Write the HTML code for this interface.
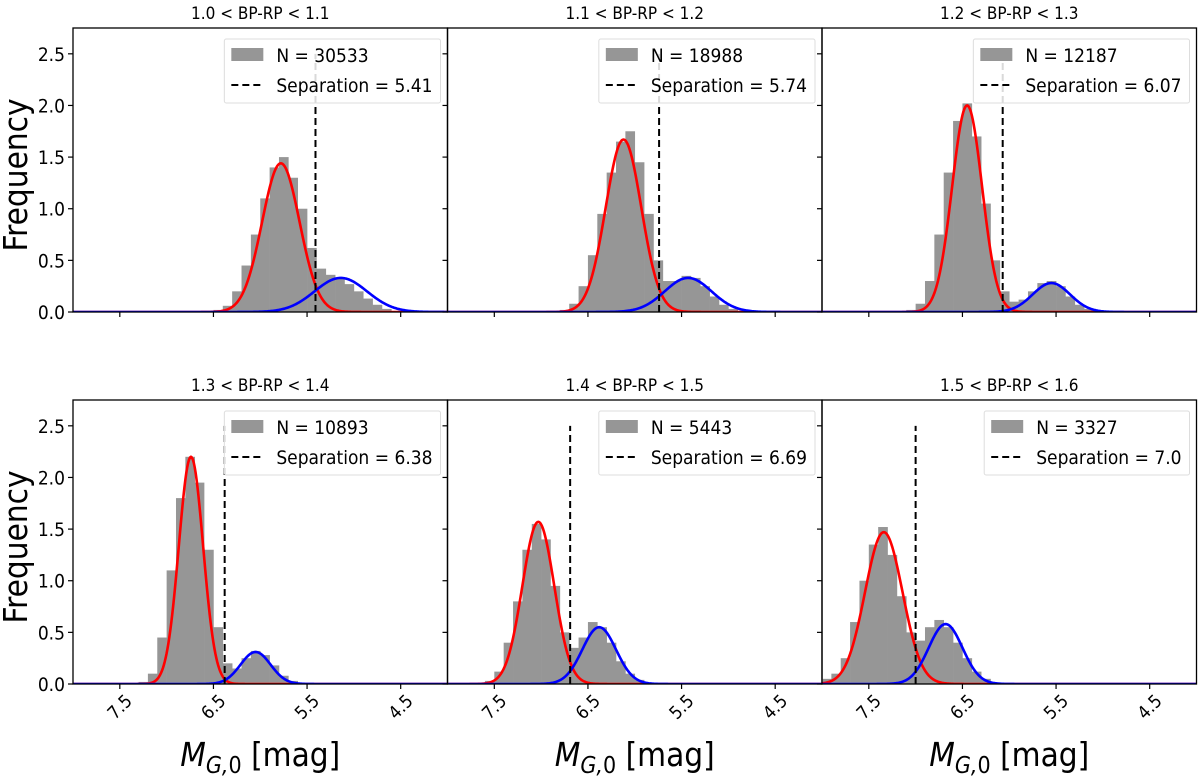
<!DOCTYPE html>
<html><head><meta charset="utf-8">
<style>
html,body{margin:0;padding:0;background:#fff;}
svg{display:block;font-family:"DejaVu Sans Condensed","DejaVu Sans","Liberation Sans",sans-serif;font-stretch:condensed;}
</style></head>
<body>
<svg id="chart" width="1200" height="777" viewBox="0 0 1200 777"></svg>
<script>
const titles = ["1.0 < BP-RP < 1.1","1.1 < BP-RP < 1.2","1.2 < BP-RP < 1.3","1.3 < BP-RP < 1.4","1.4 < BP-RP < 1.5","1.5 < BP-RP < 1.6"];
const counts = [30533, 18988, 12187, 10893, 5443, 3327];
const separations = [5.41, 5.74, 6.07, 6.38, 6.69, 7.0];
const sepLabels = ["5.41","5.74","6.07","6.38","6.69","7.0"];
// histogram bin centers (first bin) and heights, bin width 0.1 mag, going towards brighter
const binStart = [6.45, 6.75, 7.05, 7.25, 7.55, 7.95];
const hist1 = [0.02,0.06,0.2,0.45,0.75,1.1,1.4,1.5,1.3,1.0,0.62,0.42,0.36,0.32,0.27,0.2,0.13,0.07,0.03,0.01];
const hist2 = [0.02,0.08,0.25,0.55,0.95,1.35,1.65,1.75,1.45,0.95,0.5,0.3,0.3,0.35,0.33,0.25,0.15,0.07,0.03];
const hist3 = [0.02,0.08,0.3,0.75,1.35,1.85,2.02,1.7,1.05,0.5,0.2,0.1,0.12,0.2,0.28,0.3,0.25,0.15,0.07,0.03];
const hist4 = [0.02,0.1,0.45,1.1,1.8,2.2,1.95,1.3,0.55,0.2,0.15,0.25,0.32,0.28,0.18,0.08,0.03];
const hist5 = [0.03,0.12,0.4,0.8,1.3,1.55,1.4,0.95,0.5,0.35,0.45,0.6,0.55,0.4,0.22,0.1,0.04];
const hist6 = [0.05,0.1,0.25,0.6,1.0,1.35,1.52,1.25,0.85,0.5,0.42,0.55,0.62,0.55,0.4,0.25,0.12,0.05];
const hists = [hist1,hist2,hist3,hist4,hist5,hist6];
// gaussian fit parameters
const redMu = [5.78, 6.12, 6.45, 6.74, 7.03, 7.34];
const redSigma = [0.2, 0.19, 0.16, 0.13, 0.17, 0.2];
const redAmp = [1.44, 1.67, 2.0, 2.2, 1.57, 1.47];
const blueMu = [5.14, 5.43, 5.55, 6.05, 6.38, 6.68];
const blueSigma = [0.28, 0.25, 0.2, 0.16, 0.18, 0.18];
const blueAmp = [0.33, 0.33, 0.28, 0.31, 0.55, 0.58];
const xTicks = [7.5, 6.5, 5.5, 4.5];
const xTickLabels = ["7.5","6.5","5.5","4.5"];
const yTicks = [0, 0.5, 1.0, 1.5, 2.0, 2.5];
const yTickLabels = ["0.0","0.5","1.0","1.5","2.0","2.5"];

const NS = "http://www.w3.org/2000/svg";
const svg = document.getElementById('chart');
function mk(tag, attrs, parent){
  const e = document.createElementNS(NS, tag);
  for (const k in attrs) e.setAttribute(k, attrs[k]);
  (parent||svg).appendChild(e);
  return e;
}
const colX = [73, 447.5, 822];
const PW = 374.5;
const rowY = [28, 400];
const PH = 284;
const XMIN = 8.0, XMAX = 4.0, YMAX = 2.75;

for (let i = 0; i < 6; i++) {
  const col = i % 3, row = Math.floor(i / 3);
  const x0 = colX[col], y0 = rowY[row];
  const sx = v => x0 + (XMIN - v) / (XMIN - XMAX) * PW;
  const sy = v => y0 + PH - v / YMAX * PH;
  const g = mk('g', {});
  
  
  const clipId = 'clip' + i;
  const cp = mk('clipPath', {id: clipId}, g);
  mk('rect', {x: x0, y: y0, width: PW, height: PH}, cp);
  const plot = mk('g', {'clip-path': 'url(#' + clipId + ')'}, g);

  const h = hists[i];
  for (let b = 0; b < h.length; b++) {
    const c = binStart[i] - 0.1 * b;
    const xa = sx(c + 0.05), xb = sx(c - 0.05);
    const r = mk('rect', {x: xa, y: sy(h[b]), width: xb - xa + 0.3, height: sy(0) - sy(h[b]), fill: '#969696'}, plot);
    
    
  }
  function curve(mu, s, a, color, name) {
    let d = '';
    for (let k = 0; k <= 400; k++) {
      const v = XMIN - (XMIN - XMAX) * k / 400;
      const yv = a * Math.exp(-0.5 * ((v - mu) / s) ** 2);
      d += (k ? 'L' : 'M') + sx(v).toFixed(2) + ',' + sy(yv).toFixed(2);
    }
    const p = mk('path', {d: d, fill: 'none', stroke: color, 'stroke-width': 2.6}, plot);
    
    
  }
  curve(redMu[i], redSigma[i], redAmp[i], '#ff0000', 'red-gaussian-fit');
  curve(blueMu[i], blueSigma[i], blueAmp[i], '#0000ff', 'blue-gaussian-fit');
  const sl = mk('line', {x1: sx(separations[i]), x2: sx(separations[i]), y1: sy(0), y2: sy(2.5), stroke: '#000', 'stroke-width': 2, 'stroke-dasharray': '7,4'}, plot);
  
  

  const fr = mk('rect', {x: x0, y: y0, width: PW, height: PH, fill: 'none', stroke: '#000', 'stroke-width': 1.3}, g);
  
  

  yTicks.forEach((t, j) => {
    mk('line', {x1: x0 - 5, x2: x0, y1: sy(t), y2: sy(t), stroke: '#000', 'stroke-width': 1.2}, g);
    if (col === 0) {
      const tl = mk('text', {x: x0 - 8, y: sy(t) + 7, 'text-anchor': 'end', 'font-size': 19}, g);
      tl.textContent = yTickLabels[j];
      
      
    }
  });
  xTicks.forEach((t, j) => {
    mk('line', {x1: sx(t), x2: sx(t), y1: y0 + PH, y2: y0 + PH + 5, stroke: '#000', 'stroke-width': 1.2}, g);
    if (row === 1) {
      const tx = sx(t), ty = y0 + PH + 29;
      const tl = mk('text', {x: tx, y: ty, 'text-anchor': 'middle', 'font-size': 18, transform: 'rotate(-45 ' + tx + ' ' + (ty - 6) + ')'}, g);
      tl.textContent = xTickLabels[j];
      
      
    }
  });
  const tt = mk('text', {x: x0 + PW / 2, y: y0 - 9, 'text-anchor': 'middle', 'font-size': 17}, g);
  tt.textContent = titles[i];
  
  

  const lg = mk('g', {}, g);
  
  
  const box = mk('rect', {y: y0 + 11, height: 64, rx: 2, fill: '#fff', 'fill-opacity': 0.85, stroke: '#ddd', 'stroke-width': 1}, lg);
  const t1 = mk('text', {y: y0 + 34, 'font-size': 19}, lg);
  t1.textContent = 'N = ' + counts[i];
  
  
  const t2 = mk('text', {y: y0 + 64, 'font-size': 19}, lg);
  t2.textContent = 'Separation = ' + sepLabels[i];
  
  
  const tw = Math.max(t1.getComputedTextLength(), t2.getComputedTextLength());
  const bw = tw + 60;
  const bx = x0 + PW - 7 - bw;
  box.setAttribute('x', bx); box.setAttribute('width', bw);
  t1.setAttribute('x', bx + 52); t2.setAttribute('x', bx + 52);
  mk('rect', {x: bx + 7, y: y0 + 20, width: 32, height: 13, fill: '#969696'}, lg);
  mk('line', {x1: bx + 7, x2: bx + 39, y1: y0 + 57, y2: y0 + 57, stroke: '#000', 'stroke-width': 2, 'stroke-dasharray': '7,4'}, lg);
}
[0, 1].forEach(r => {
  const cy = rowY[r] + PH / 2 + 5;
  const yl = mk('text', {x: 27, y: cy, 'text-anchor': 'middle', 'font-size': 33, transform: 'rotate(-90 27 ' + cy + ')'});
  yl.textContent = 'Frequency';
  
  
});
[0, 1, 2].forEach(c => {
  const cx = colX[c] + PW / 2;
  const xl = mk('text', {x: cx, y: 766, 'text-anchor': 'middle', 'font-size': 33});
  xl.innerHTML = '<tspan font-style="italic">M</tspan><tspan font-style="italic" font-size="23" dy="7">G,</tspan><tspan font-size="23">0</tspan><tspan dy="-7"> [mag]</tspan>';
  
  
});
</script>
</body></html>
